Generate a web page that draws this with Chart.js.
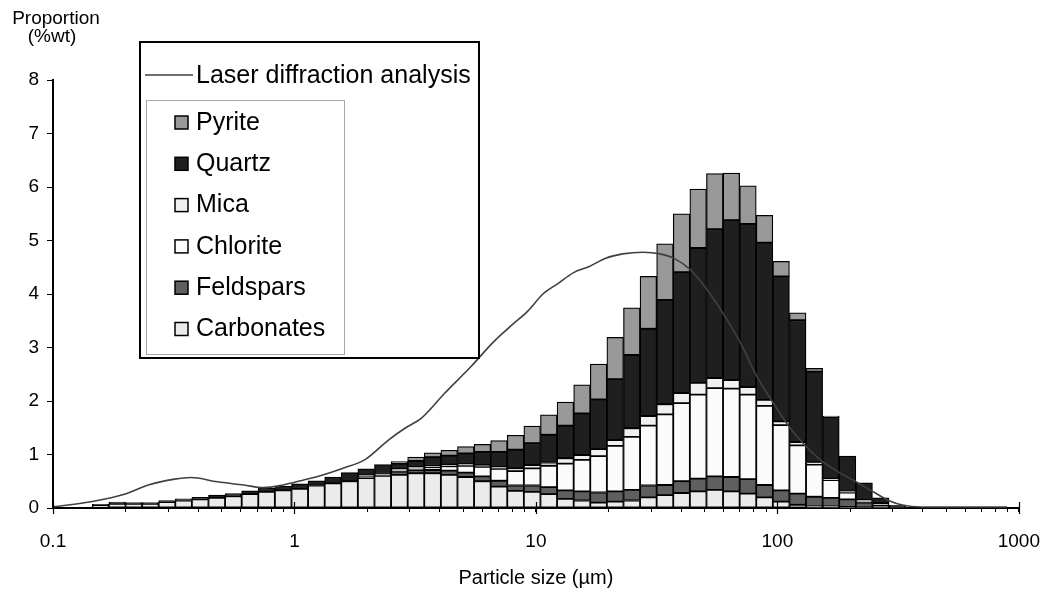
<!DOCTYPE html>
<html>
<head>
<meta charset="utf-8">
<script src="https://cdn.jsdelivr.net/npm/chart.js@4.4.1/dist/chart.umd.min.js"></script>
<style>
  html, body { margin: 0; padding: 0; background: #fff; }
</style>
</head>
<body>
<canvas id="chart" width="1058" height="594"></canvas>
<script>
// size classes (bin centres, µm)
const sizes = [
  0.1574, 0.1844, 0.2161, 0.2531, 0.2965, 0.3474, 0.4069, 0.4767, 0.5585, 0.6543,
  0.7665, 0.8979, 1.052, 1.232, 1.444, 1.691, 1.981, 2.321, 2.719, 3.185,
  3.732, 4.372, 5.122, 6.000, 7.029, 8.234, 9.646, 11.30, 13.24, 15.51,
  18.17, 21.29, 24.94, 29.21, 34.22, 40.09, 46.97, 55.02, 64.46, 75.51,
  88.46, 103.6, 121.4, 142.2, 166.6, 195.2, 228.7, 267.9, 313.8
];

// mineral proportions (%wt), bottom of the stack first
const carbonates = [
  0.05, 0.08, 0.08, 0.08, 0.11, 0.14, 0.16, 0.19, 0.22, 0.26,
  0.30, 0.33, 0.36, 0.42, 0.46, 0.50, 0.56, 0.60, 0.62, 0.65,
  0.65, 0.62, 0.58, 0.50, 0.40, 0.32, 0.30, 0.26, 0.17, 0.14,
  0.10, 0.12, 0.14, 0.20, 0.24, 0.28, 0.31, 0.34, 0.31, 0.27,
  0.20, 0.12, 0.06, 0.03, 0.03, 0.02, 0.01, 0.01, 0
];
const feldspars = [
  0, 0, 0, 0, 0, 0, 0, 0, 0, 0,
  0, 0, 0, 0, 0, 0, 0.01, 0.01, 0.06, 0.06,
  0.06, 0.08, 0.08, 0.09, 0.11, 0.10, 0.12, 0.13, 0.16, 0.17,
  0.19, 0.19, 0.20, 0.22, 0.19, 0.22, 0.24, 0.25, 0.27, 0.27,
  0.23, 0.21, 0.21, 0.18, 0.16, 0.14, 0.09, 0.04, 0.02
];
const chlorite = [
  0, 0, 0, 0, 0, 0, 0, 0, 0, 0,
  0, 0, 0, 0, 0, 0, 0.02, 0.02, 0.03, 0.04,
  0.05, 0.08, 0.13, 0.18, 0.22, 0.27, 0.32, 0.40, 0.50, 0.59,
  0.68, 0.85, 0.99, 1.12, 1.32, 1.46, 1.57, 1.65, 1.65, 1.58,
  1.48, 1.22, 0.90, 0.60, 0.33, 0.13, 0.03, 0.04, 0
];
const mica = [
  0, 0, 0, 0, 0, 0, 0, 0, 0, 0,
  0, 0, 0, 0, 0, 0, 0.02, 0.01, 0.02, 0.02,
  0.03, 0.03, 0.03, 0.03, 0.04, 0.05, 0.06, 0.06, 0.10, 0.09,
  0.13, 0.11, 0.16, 0.18, 0.19, 0.19, 0.22, 0.19, 0.16, 0.14,
  0.11, 0.07, 0.06, 0.04, 0.03, 0.02, 0.02, 0, 0
];
const quartz = [
  0.02, 0.03, 0.02, 0.02, 0.03, 0.03, 0.04, 0.05, 0.05, 0.06,
  0.07, 0.08, 0.09, 0.09, 0.12, 0.16, 0.12, 0.17, 0.10, 0.11,
  0.16, 0.17, 0.20, 0.25, 0.28, 0.35, 0.41, 0.52, 0.61, 0.78,
  0.93, 1.14, 1.37, 1.63, 1.95, 2.26, 2.52, 2.78, 2.99, 3.05,
  2.94, 2.71, 2.28, 1.70, 1.15, 0.66, 0.32, 0.10, 0.03
];
const pyrite = [
  0, 0, 0, 0, 0, 0, 0, 0, 0, 0,
  0, 0, 0, 0, 0, 0, 0, 0, 0.04, 0.07,
  0.08, 0.10, 0.13, 0.14, 0.21, 0.27, 0.32, 0.37, 0.44, 0.53,
  0.66, 0.78, 0.88, 0.98, 1.05, 1.09, 1.10, 1.04, 0.88, 0.71,
  0.51, 0.28, 0.14, 0.06, 0.02, 0, 0, 0, 0
];

// laser diffraction curve
const laserSizes = [
  0.1, 0.1455, 0.1992, 0.248, 0.3189, 0.3728, 0.4795, 0.6164, 0.7438, 0.8982,
  1.084, 1.268, 1.58, 1.968, 2.45, 2.868, 3.356, 4.178, 5.373, 6.692,
  7.853, 9.25, 10.69, 12.37, 14.32, 16.55, 19.45, 22.88, 27.77, 32.65,
  37.15, 43.69, 51.35, 60.26, 70.4, 82.37, 96.3, 112.7, 131.6, 151.6,
  177.9, 209.8, 243.9, 291.7, 333, 394.2, 894
];
const laserValues = [
  0.02, 0.12, 0.26, 0.43, 0.54, 0.57, 0.49, 0.43, 0.38, 0.43,
  0.52, 0.60, 0.74, 0.91, 1.27, 1.49, 1.68, 2.14, 2.64, 3.11,
  3.40, 3.68, 4.00, 4.20, 4.40, 4.51, 4.67, 4.75, 4.78, 4.75,
  4.67, 4.45, 4.07, 3.60, 3.08, 2.45, 1.96, 1.50, 1.15, 0.89,
  0.68, 0.50, 0.33, 0.13, 0.05, 0.02, 0.02
];

const xLabels = [0.1, 1, 10, 100, 1000];

const FONT = "'Liberation Sans', Arial, sans-serif";
Chart.defaults.font.family = FONT;
Chart.defaults.color = '#000';

// log axis ticks: 1..9 in every decade
const xTicks = [];
for (let d = 0; d < xLabels.length - 1; d++) {
  for (let k = 1; k < 10; k++) xTicks.push(+(k * xLabels[d]).toPrecision(3));
}
xTicks.push(xLabels[xLabels.length - 1]);

const pts = (xs, ys) => xs.map((x, i) => ({ x: x, y: ys[i] }));

function barSet(label, values, color) {
  return {
    type: 'bar',
    label: label,
    data: pts(sizes, values),
    backgroundColor: color,
    borderColor: '#000',
    borderWidth: 1.25,
    borderSkipped: false,
    barThickness: 'flex',
    barPercentage: 1,
    categoryPercentage: 1,
    stack: 'minerals',
    order: 1
  };
}

// y axis caption at top left
const yCaption = {
  id: 'yCaption',
  afterDraw(chart) {
    const ctx = chart.ctx;
    ctx.save();
    ctx.fillStyle = '#000';
    ctx.font = '19px ' + FONT;
    ctx.textAlign = 'center';
    ctx.textBaseline = 'middle';
    ctx.fillText('Proportion', 56, 19);
    ctx.fillText('(%wt)', 52, 37);
    ctx.restore();
  }
};

// major ticks cross the x axis line
const majorTicks = {
  id: 'majorTicks',
  afterDraw(chart) {
    const ctx = chart.ctx, xs = chart.scales.x, b = chart.chartArea.bottom;
    ctx.save();
    ctx.strokeStyle = '#000';
    ctx.lineWidth = 1.2;
    xLabels.forEach(v => {
      const px = Math.round(xs.getPixelForValue(v)) + 0.5;
      ctx.beginPath();
      ctx.moveTo(px, b - 6);
      ctx.lineTo(px, b + 6);
      ctx.stroke();
    });
    ctx.restore();
  }
};

// boxed legend: line entry, then the minerals in an inner frame
const boxLegend = {
  id: 'boxLegend',
  afterDraw(chart) {
    const ctx = chart.ctx;
    const sets = chart.data.datasets;
    const line = sets.find(d => d.type === 'line');
    const bars = sets.filter(d => d.type === 'bar').reverse();
    ctx.save();
    ctx.fillStyle = '#fff';
    ctx.fillRect(140, 42, 339, 316);
    ctx.strokeStyle = '#000';
    ctx.lineWidth = 2;
    ctx.strokeRect(140, 42, 339, 316);

    ctx.strokeStyle = line.borderColor;
    ctx.lineWidth = 1.5;
    ctx.beginPath();
    ctx.moveTo(145, 75);
    ctx.lineTo(193, 75);
    ctx.stroke();

    ctx.font = '25px ' + FONT;
    ctx.fillStyle = '#000';
    ctx.textBaseline = 'middle';
    ctx.fillText(line.label, 196, 76);

    ctx.strokeStyle = '#a8a8a8';
    ctx.lineWidth = 1;
    ctx.strokeRect(146.5, 100.5, 198, 254);

    bars.forEach((d, i) => {
      const cy = 122 + i * 41.3;
      ctx.fillStyle = d.backgroundColor;
      ctx.fillRect(175, cy - 6, 13, 13);
      ctx.strokeStyle = '#000';
      ctx.lineWidth = 1.5;
      ctx.strokeRect(175, cy - 6, 13, 13);
      ctx.fillStyle = '#000';
      ctx.fillText(d.label, 196, cy + 1);
    });
    ctx.restore();
  }
};

new Chart(document.getElementById('chart'), {
  type: 'bar',
  data: {
    datasets: [
      {
        type: 'line',
        label: 'Laser diffraction analysis',
        data: pts(laserSizes, laserValues),
        borderColor: '#404040',
        borderWidth: 1.6,
        pointRadius: 0,
        cubicInterpolationMode: 'monotone',
        stack: 'laser',
        order: 0
      },
      barSet('Carbonates', carbonates, '#ebebeb'),
      barSet('Feldspars', feldspars, '#5f5f5f'),
      barSet('Chlorite', chlorite, '#fbfbfb'),
      barSet('Mica', mica, '#f0f0f0'),
      barSet('Quartz', quartz, '#1f1f1f'),
      barSet('Pyrite', pyrite, '#999999')
    ]
  },
  options: {
    responsive: false,
    animation: false,
    layout: { padding: { top: 80, right: 25, bottom: 0, left: 0 } },
    plugins: { legend: { display: false }, tooltip: { enabled: false } },
    scales: {
      x: {
        type: 'logarithmic',
        min: 0.1,
        max: 1000,
        offset: false,
        z: 1,
        afterBuildTicks: s => { s.ticks = xTicks.map(v => ({ value: v })); },
        afterFit: s => { s.height = 86; },
        ticks: {
          autoSkip: false,
          maxRotation: 0,
          padding: 18,
          font: { size: 19 },
          callback: v => xLabels.includes(v) ? String(v) : ''
        },
        grid: { drawOnChartArea: false, offset: false, tickLength: 4, color: '#000' },
        border: { color: '#000', width: 2 },
        title: {
          display: true,
          text: 'Particle size (µm)',
          font: { size: 20 },
          padding: { top: 0, bottom: 4 }
        }
      },
      y: {
        min: 0,
        max: 8,
        stacked: true,
        z: 1,
        afterFit: s => { s.width = 53; },
        ticks: { stepSize: 1, padding: 8, font: { size: 19 } },
        grid: { drawOnChartArea: false, tickLength: 6, color: '#000' },
        border: { color: '#000', width: 2 }
      }
    }
  },
  plugins: [yCaption, majorTicks, boxLegend]
});
</script>
</body>
</html>
